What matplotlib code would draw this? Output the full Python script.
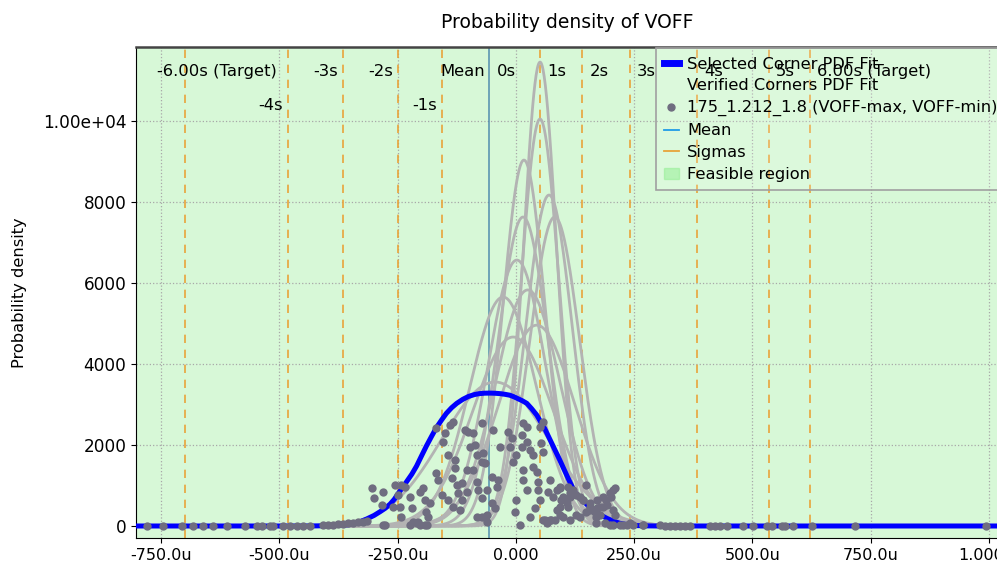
import numpy as np
import matplotlib
matplotlib.use("Agg")
import matplotlib.pyplot as plt
from matplotlib.lines import Line2D
from matplotlib.patches import Patch
from matplotlib.ticker import FuncFormatter

# ---- data (x values in micro-volts, converted below) ----
# selected corner PDF fit
blue_x_u = [-805, -450, -420, -400, -380, -365, -351, -335, -316, -300, -287, -276, -266,
            -257, -249, -240, -231, -220, -210, -200, -189, -178, -168, -157, -147, -136,
            -125, -112, -100, -88, -78, -66, -55, -44, -33, -23, -13, -4, 5, 14, 23, 33,
            44, 52, 61, 68, 75, 84, 93, 102, 111, 118, 125, 133, 142, 152, 163, 177, 192,
            206, 220, 237, 255, 280, 300, 1025]
blue_y = [0, 0, 3, 8, 15, 22, 35, 80, 170, 260, 354, 440, 540,
          660, 800, 940, 1095, 1280, 1480, 1720, 1980, 2220, 2430, 2620, 2782, 2920,
          3030, 3130, 3200, 3245, 3268, 3280, 3282, 3278, 3268, 3252, 3230, 3190, 3140, 3090, 3029, 2900,
          2740, 2580, 2400, 2230, 2060, 1840, 1620, 1390, 1160, 990, 820, 720, 620, 510, 400, 290, 190,
          120, 66, 30, 10, 3, 0, 0]

# verified corners PDF fits: mean (u) and peak density
grey_mean_u = [51, 51, 17, 70, 15, 82, 2, 25, -27, 44, -6, -44]
grey_peak = [11457, 10050, 9037, 8173, 7630, 7630, 6568, 5830, 5654, 4960, 4667, 3556]

# sample points of corner 175_1.212_1.8
pts_x_u = [-780, -746, -706, -683, -661, -640, -611, -573, -547, -537, -520, -514, -492,
           -478, -463, -450, -435, -408, -397, -387, -376, -366, -355, -344, -334, -323, -315,
           -305, -301, -280, -284, -277, -259, -256, -242, -235, -249, -245, -242, -224, -220,
           -217, -206, -203, -196, -192, -189, -182, -185, -192, -203, -168, -154, -150, -139,
           -132, -143, -129, -129, -136, -168, -164, -157, -143, -132, -125, -122, -115, -104,
           -115, -118, -108, -101, -90, -97, -87, -83, -72, -104, -90, -72, -69, -65, -48, -83,
           -80, -72, -62, -62, -72, -62, -51, -44, -51, -37, -41, -34, -16, -9, -13, -6, 1, 16,
           23, 12, 12, 23, 30, 37, 16, 16, 23, 37, 44, 47, 47, 51, 40, 30, 8, 1, -2, 58, 51, 54,
           58, 72, 68, 79, 86, 93, 100, 93, 107, 111, 114, 121, 128, 142, 156, 171, 185, 199, 206,
           185, 167, 149, 135, 114, 100, 72, 65, 58, -281, -224, -209, -188, -82, -66,
           209, 202, 191, 170, 178, 156, 135, 114, 93, 96, 111, 86, 93, 82, 75, 61, 128, 170, 199,
           220, 234, 248, 170, 149, 142, 156, 171, 192, 206, 209, 178, 188, 206, 227, 241, 269,
           268, 304, 315, 325, 336, 347, 357, 368, 410, 421, 431, 446, 480, 501, 530, 541, 562,
           568, 585, 626, 716, 993]
pts_y = [0, 0, 0, 0, 0, 0, 0, 0, 0, 0, 0, 0, 0,
         0, 0, 0, 10, 20, 25, 35, 45, 55, 70, 85, 100, 110, 120,
         930, 683, 848, 519, 25, 478, 1013, 1013, 971, 766, 478, 231, 725, 436,
         107, 107, 848, 930, 642, 354, 560, 231, 20, 20, 2412, 2082, 2288, 2494,
         2576, 1753, 1630, 1424, 1177, 1301, 1136, 766, 642, 478, 1013, 807, 1054, 848,
         642, 395, 2371, 2329, 2288, 1959, 2000, 1753, 2535, 1383, 1383, 1589, 1794, 1548, 2371, 1095,
         889, 683, 889, 272, 231, 107, 560, 436, 1218, 1136, 971, 1959, 2329, 2165, 1959, 1589, 1753, 2535,
         2453, 2247, 1959, 2082, 1877, 1753, 1383, 1136, 889, 1465, 1342, 1095, 889, 642, 436, 231, 25, 642, 354, 2576, 2453, 2041,
         1836, 1136, 848, 725, 889, 971, 725, 478, 560, 971, 807, 889, 766, 642, 478, 642, 725, 807, 889,
         478, 354, 354, 231, 149, 231, 149, 66, 149, 25, 25, 74, 25, 222, 222,
         930, 724, 642, 313, 477, 395, 724, 724, 930, 642, 477, 395, 272, 148, 148, 148, 272, 66, 25,
         25, 25, 25, 230, 1013, 642, 560, 436, 519, 395, 272, 272, 66, 25, 25, 66, 25,
         20, 15, 12, 10, 8, 6, 5, 4, 0, 0, 0, 0, 0, 0, 0, 0, 0,
         0, 0, 0, 0, 0]

mean_u = -57
sigma_x_u = [-700, -482, -366, -249, -156, 51, 140, 241, 383, 535, 621]
sigma_text = ["-6.00s (Target)", "-4s", "-3s", "-2s", "-1s", "Mean", "0s",
              "1s", "2s", "3s", "4s", "5s", "6.00s (Target)"]
sigma_text_x_u = [-505, -492, -376, -259, -166, -65, -40, 66, 155, 256, 398, 550, 636]
sigma_text_row = [0, 1, 0, 0, 1, 0, 0, 0, 0, 0, 0, 0, 0]

x_ticks_u = [-750, -500, -250, 0, 250, 500, 750, 1000]
y_ticks = [0, 2000, 4000, 6000, 8000, 10000]

u = 1e-6

fig = plt.figure(figsize=(9.97, 5.66), dpi=100)
ax = fig.add_axes([0.1364, 0.0495, 0.8656, 0.8675])

xmin, xmax = -803 * u, 1021 * u
ax.set_xlim(xmin, xmax)
ax.set_ylim(-296, 11830)

# feasible region covers the whole range
ax.axvspan(xmin, xmax, color="#90ee90", alpha=0.36, lw=0, zorder=0)
ax.grid(True, ls=":", color="#a8a8a8", lw=0.9, zorder=1)
ax.set_axisbelow(True)

for sx in sigma_x_u:
    ax.axvline(sx * u, color="#e8a33a", lw=1.2, dashes=(5, 4), zorder=2)
ax.axvline(mean_u * u, color="#3f7fa8", alpha=0.75, lw=1.3, zorder=2)

xs = np.linspace(xmin, xmax, 1500)
for m, pk in zip(grey_mean_u, grey_peak):
    s = 1.0 / (pk * np.sqrt(2 * np.pi))
    ax.plot(xs, pk * np.exp(-0.5 * ((xs - m * u) / s) ** 2), color="#b3b3b3", lw=2, zorder=3)

ax.plot(np.array(blue_x_u) * u, blue_y, color="#0000ff", lw=3.6, zorder=4,
        solid_capstyle="butt", solid_joinstyle="round")
ax.scatter(np.array(pts_x_u) * u, pts_y, s=36, color="#6f6d80", lw=0, zorder=5)

trans = ax.get_xaxis_transform()
row_y = [0.951, 0.88]
for t, tx, r in zip(sigma_text, sigma_text_x_u, sigma_text_row):
    ha = "right" if tx < mean_u or t == "Mean" else "left"
    ax.text(tx * u, row_y[r], t, transform=trans, ha=ha, va="center", fontsize=11.8, zorder=12)


def xfmt(v, pos):
    if abs(v) < 1e-12:
        return "0.000"
    if abs(v) >= 1e-3 - 1e-12:
        return f"{v * 1e3:.3f}m"
    return f"{v * 1e6:.1f}u"


def yfmt(v, pos):
    if v >= 10000:
        return f"{v:.2e}"
    return f"{v:.0f}"


ax.set_xticks(np.array(x_ticks_u) * u)
ax.set_yticks(y_ticks)
ax.xaxis.set_major_formatter(FuncFormatter(xfmt))
ax.yaxis.set_major_formatter(FuncFormatter(yfmt))
ax.tick_params(axis="x", labelsize=11.5)
ax.tick_params(axis="y", labelsize=12.2)

ax.set_title("Probability density of VOFF", fontsize=13.5, pad=14)
ax.set_ylabel("Probability density", fontsize=11.7, labelpad=11)
ax.spines["top"].set_linewidth(1.8)
ax.spines["top"].set_color("#444444")

handles = [
    Line2D([], [], color="#0000ff", lw=5),
    Line2D([], [], color="none"),
    Line2D([], [], ls="none", marker="o", ms=5, color="#6f6d80"),
    Line2D([], [], color="#1f9be8", lw=1.3),
    Line2D([], [], color="#e8a33a", lw=1.3),
    Patch(color="#90ee90", alpha=0.5),
]
labels = ["Selected Corner PDF Fit", "Verified Corners PDF Fit",
          "175_1.212_1.8 (VOFF-max, VOFF-min)", "Mean", "Sigmas", "Feasible region"]
leg = ax.legend(handles, labels, loc="upper left", bbox_to_anchor=(0.602, 0.997),
                fontsize=11.7, handlelength=0.95, handletextpad=0.5, labelspacing=0.42,
                borderaxespad=0, borderpad=0.5, fancybox=False)
frame = leg.get_frame()
frame.set_alpha(None)
frame.set_facecolor((1, 1, 1, 0.15))
frame.set_edgecolor("#a0a0a0")
frame.set_linewidth(1.2)
leg.set_zorder(10)

fig.savefig("out.png", dpi=100)
